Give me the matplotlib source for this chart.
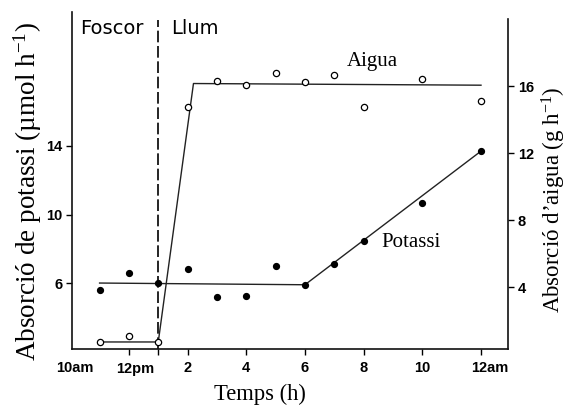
import matplotlib
matplotlib.use("Agg")
import matplotlib.pyplot as plt
from matplotlib.transforms import ScaledTranslation

# ---- data (hours of day; 13 = 1pm) ----
hours = [11, 12, 13, 14, 15, 16, 17, 18, 19, 20, 22, 24]
potassi = [5.6, 6.6, 6.0, 6.8, 5.2, 5.25, 7.0, 5.9, 7.1, 8.45, 10.7, 13.7]
aigua = [0.72, 1.05, 0.72, 14.75, 16.3, 16.05, 16.8, 16.25, 16.65, 14.75, 16.4, 15.1]

potassi_fit_x = [11, 18, 24]
potassi_fit_y = [6.0, 5.9, 13.7]
aigua_fit_x = [11, 13, 14.2, 24]
aigua_fit_y = [0.72, 0.72, 16.15, 16.05]

light_on = 13
xtick_pos = [10.2, 12, 13, 14, 16, 18, 20, 22, 24]
xtick_lab = ["10am", "12pm", "", "2", "4", "6", "8", "10", "12am"]
ytick_left = [6, 10, 14]
ytick_right = [4, 8, 12, 16]

plt.rcParams['mathtext.fontset'] = 'custom'
plt.rcParams['mathtext.rm'] = 'Liberation Serif'
plt.rcParams['mathtext.it'] = 'Liberation Serif'

fig = plt.figure(figsize=(5.67, 4.05), dpi=100)
W, H = 567, 405
x0, x1, ytop, ybot = 72, 508, 12, 349
ax = fig.add_axes([x0 / W, (H - ybot) / H, (x1 - x0) / W, (ybot - ytop) / H])
ax2 = ax.twinx()

ax.set_xlim(10.06, 24.92)
ax.set_ylim(2.15, 21.82)
ax2.set_ylim(0.30, 20.42)

lc = '#222222'
# fitted lines
ax.plot(potassi_fit_x, potassi_fit_y, color=lc, lw=1.0, zorder=2)
ax2.plot(aigua_fit_x, aigua_fit_y, color=lc, lw=1.0, zorder=2)
# data points
ax.plot(hours, potassi, 'o', ms=4.2, color='black', zorder=3)
ax2.plot(hours, aigua, 'o', ms=4.5, mfc='white', mec='black', mew=0.9, zorder=3)
# light-on dashed line
ax.axvline(light_on, ymin=0, ymax=(349 - 20) / 337, color='black', lw=1.2,
           dashes=(7, 2.2), zorder=1)

# spines
for a in (ax, ax2):
    a.spines['top'].set_visible(False)
ax.spines['right'].set_visible(False)
ax2.spines['left'].set_visible(False)
ax2.spines['bottom'].set_visible(False)
ax2.spines['right'].set_bounds(0.30, 20.0)
for a in (ax, ax2):
    for s in a.spines.values():
        s.set_linewidth(1.2)
        s.set_color('#111111')

tickfont = dict(family='Liberation Sans', size=10.5, weight='bold')
ax.set_xticks(xtick_pos)
ax.set_xticklabels(xtick_lab, fontdict=tickfont)
ax.xaxis.get_major_ticks()[0].tick1line.set_visible(False)
ax.set_yticks(ytick_left)
ax.set_yticklabels([str(v) for v in ytick_left], fontdict=tickfont)
ax2.set_yticks(ytick_right)
ax2.set_yticklabels([str(v) for v in ytick_right], fontdict=tickfont)
ax.tick_params(axis='x', direction='out', length=4, width=1, pad=5)
ax.tick_params(axis='y', direction='out', length=4, width=1, pad=3)
ax2.tick_params(direction='out', length=4, width=1, pad=3)

# am/pm labels sit slightly right of their ticks in the reference
shifts = {"10am": -0.01, "12pm": 0.06, "12am": 0.09}
for lab in ax.get_xticklabels():
    s = shifts.get(lab.get_text())
    if s:
        lab.set_transform(lab.get_transform() + ScaledTranslation(s, 0, fig.dpi_scale_trans))

serif = 'Liberation Serif'
ax.set_ylabel(r"Absorció de potassi (µmol h$^{-1}$)", family=serif, fontsize=19.5)
ax.yaxis.set_label_coords(-0.064, 0.467)
ax2.set_ylabel(r"Absorció d’aigua (g h$^{-1}$)", family=serif, fontsize=16.5,
               rotation=90)
ax2.yaxis.set_label_coords(1.074, 0.442)
ax.set_xlabel("Temps (h)", family=serif, fontsize=16.3)
ax.xaxis.set_label_coords(0.431, -0.103)

ax.text(112, H - 29, "Foscor", transform=None, fontsize=14, family='DejaVu Sans',
        ha='center', va='center')
ax.text(195, H - 29, "Llum", transform=None, fontsize=14, family='DejaVu Sans',
        ha='center', va='center')
ax2.text(20.3, 17.45, "Aigua", family=serif, fontsize=15, ha='center', va='center')
ax.text(21.6, 8.35, "Potassi", family=serif, fontsize=15, ha='center', va='center')

fig.savefig("out.png", dpi=100)
